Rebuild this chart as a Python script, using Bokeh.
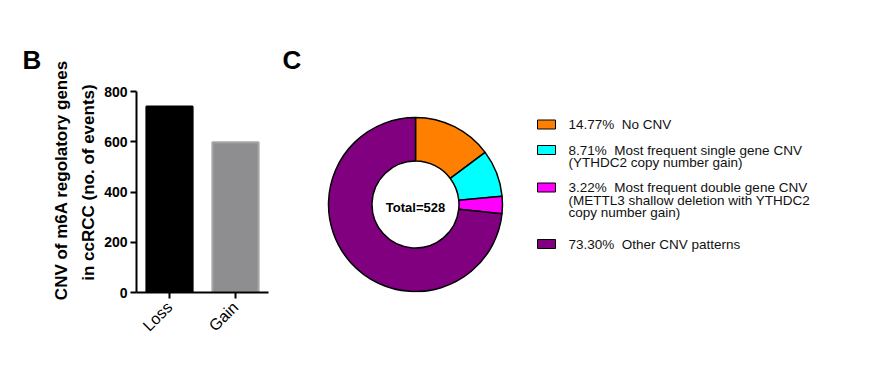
import math
from bokeh.plotting import figure
from bokeh.models import Range1d, FactorRange, ColumnDataSource, FixedTicker
from bokeh.layouts import row
from bokeh.embed import file_html
from bokeh.resources import INLINE
from bokeh.core.properties import value

# ---------------- data ----------------
bar_categories = ["Loss", "Gain"]
bar_values = [740, 598]
bar_fill = ["#000000", "#8e8e90"]
bar_line = ["#000000", "#a6a6a8"]
y_ticks = [0, 200, 400, 600, 800]
y_title_lines = ["CNV of m6A regolatory genes", "in ccRCC (no. of events)"]

donut_pct = [14.77, 8.71, 3.22, 73.30]
donut_colors = ["#ff8000", "#00ffff", "#ff00ff", "#800080"]
donut_texts = [
    ["No CNV"],
    ["Most frequent single gene CNV", "(YTHDC2 copy number gain)"],
    ["Most frequent double gene CNV", "(METTL3 shallow deletion with YTHDC2", "copy number gain)"],
    ["Other CNV patterns"],
]
total_n = 528

FONT = "Liberation Sans"
H_IMG = 373  # canvas height, used to flip image y into plot y
NBSP = "\u00a0"

# ---------------- panel B: bar chart ----------------
p1 = figure(x_range=FactorRange(*bar_categories, range_padding=0),
            y_range=Range1d(0, 800), width=280, height=373,
            output_backend="svg", toolbar_location=None,
            min_border_left=136, min_border_right=12,
            min_border_top=91, min_border_bottom=81)
p1.outline_line_color = None
p1.xgrid.visible = False
p1.ygrid.visible = False
p1.title.text = "B"
p1.title.text_font = FONT
p1.title.text_font_size = "26px"
p1.title.text_font_style = "bold"
p1.title.text_color = "black"
p1.title.align = "left"
p1.title.offset = -114
p1.title.standoff = 33

src1 = ColumnDataSource(dict(cat=bar_categories, val=bar_values, fill=bar_fill, line=bar_line))
p1.vbar(x="cat", top="val", width=0.7, fill_color="fill", line_color="line",
        line_width=2, source=src1)

ya = p1.yaxis[0]
ya.ticker = FixedTicker(ticks=y_ticks, minor_ticks=[])
xa = p1.xaxis[0]
for ax in (xa, ya):
    ax.axis_line_width = 2
    ax.axis_line_color = "black"
    ax.major_tick_line_width = 2
    ax.major_tick_line_color = "black"
    ax.major_tick_out = 6
    ax.major_tick_in = 0
    ax.minor_tick_out = 0
    ax.minor_tick_in = 0
    ax.major_label_text_font = FONT
    ax.major_label_text_color = "black"
ya.major_label_text_font_size = "14px"
ya.major_label_text_font_style = "bold"
ya.major_label_standoff = 3
# leading no-break spaces nudge both lines toward the top, as in the original
ya.axis_label = NBSP * 5 + y_title_lines[0] + "\n" + NBSP * 4 + y_title_lines[1]
ya.axis_label_text_font = FONT
ya.axis_label_text_font_size = "17px"
ya.axis_label_text_font_style = "bold"
ya.axis_label_text_color = "black"
ya.axis_label_text_line_height = 1.45
ya.axis_label_standoff = 3
xa.major_label_text_font_size = "16px"
xa.major_label_orientation = math.pi / 4
xa.major_label_standoff = 6

# ---------------- panel C: donut ----------------
# frame of this panel is aligned with panel B's frame (image y 91..292)
p2 = figure(x_range=Range1d(280, 881), y_range=Range1d(H_IMG - 292, H_IMG - 91),
            width=601, height=373,
            output_backend="svg", toolbar_location=None, min_border=0,
            min_border_top=91, min_border_bottom=81,
            x_axis_type=None, y_axis_type=None)
p2.outline_line_color = None
p2.grid.visible = False
p2.title.text = "C"
p2.title.text_font = FONT
p2.title.text_font_size = "26px"
p2.title.text_font_style = "bold"
p2.title.text_color = "black"
p2.title.align = "left"
p2.title.offset = 2
p2.title.standoff = 33

cx, cy = 415, H_IMG - 204
starts, ends = [], []
acc = 0.0
for v in donut_pct:
    starts.append(math.pi / 2 - 2 * math.pi * acc / 100.0)
    acc += v
    ends.append(math.pi / 2 - 2 * math.pi * acc / 100.0)
src2 = ColumnDataSource(dict(s=starts, e=ends, c=donut_colors))
p2.annular_wedge(x=cx, y=cy, inner_radius=43.5, outer_radius=87,
                 start_angle="s", end_angle="e", direction="clock",
                 fill_color="c", line_color="black", line_width=1.5, source=src2)

p2.text(x=[cx], y=[H_IMG - 207], text=[f"Total={total_n}"], text_font=value(FONT),
        text_font_style="bold", text_font_size="13px", text_align="center",
        text_baseline="middle", text_color="black")

# legend
item_top = [124, 149.5, 187, 243.5]
line_gap = 12.5
box_x, text_x = 546, 568
lx, ly, lt = [], [], []
for i, (pct, lines) in enumerate(zip(donut_pct, donut_texts)):
    for j, ln in enumerate(lines):
        t = f"{pct:.2f}%{NBSP}{NBSP}{ln}" if j == 0 else ln
        lx.append(text_x)
        ly.append(H_IMG - (item_top[i] + line_gap * j))
        lt.append(t)
p2.rect(x=[box_x] * len(donut_pct), y=[H_IMG - t for t in item_top], width=18, height=9,
        fill_color=donut_colors, line_color="black", line_width=1)
p2.text(x=lx, y=ly, text=lt, text_font=value(FONT), text_font_size="13.5px",
        text_align="left", text_baseline="middle", text_color="#111111")

layout = row(p1, p2)
open("out.html", "w").write(file_html(layout, INLINE))
